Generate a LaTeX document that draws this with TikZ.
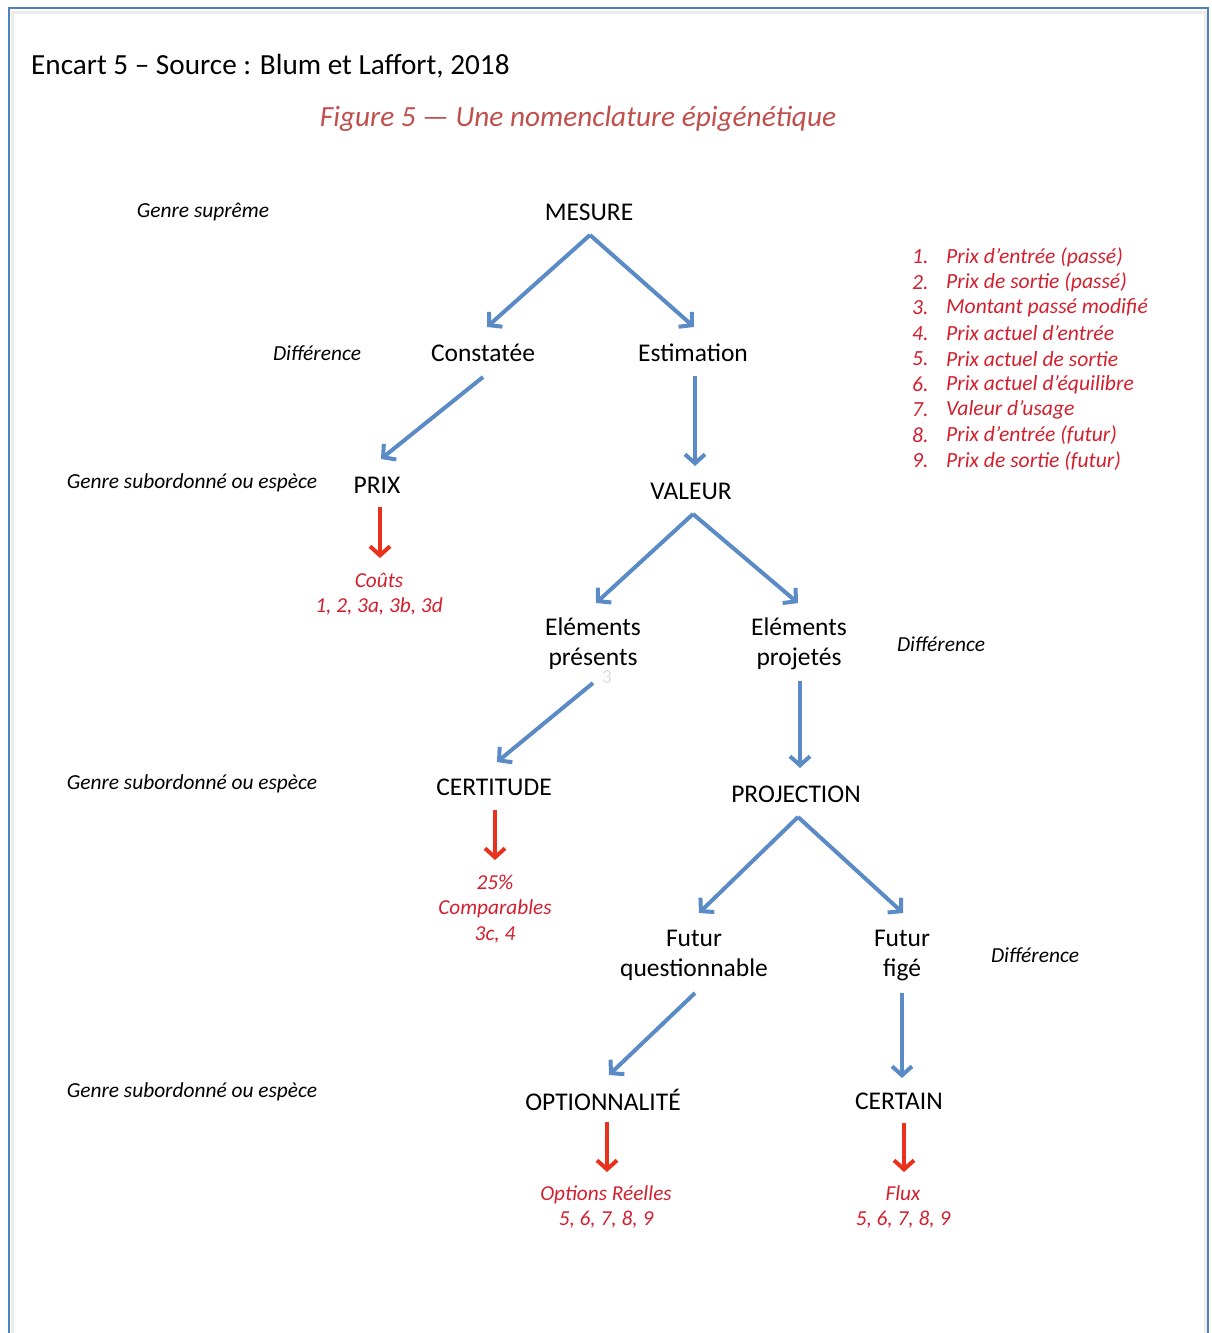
\documentclass[tikz,border=0pt]{standalone}
\usepackage{fontspec}
\setmainfont{Carlito}
\usetikzlibrary{arrows.meta}
\definecolor{arrblue}{HTML}{5B8BC6}
\definecolor{arrred}{HTML}{E8321E}
\definecolor{txtred}{HTML}{D2202F}
\definecolor{figred}{HTML}{C0504D}
\definecolor{framebl}{HTML}{4F81BD}
\begin{document}
\begin{tikzpicture}[x=1pt,y=-1pt,
 lab/.style={font=\fontsize{25.5}{30}\selectfont, align=center, inner sep=0pt},
 side/.style={font=\fontsize{21.4}{24}\selectfont\itshape, inner sep=0pt},
 note/.style={font=\fontsize{21.3}{25.5}\selectfont\itshape, text=txtred, align=center, inner sep=0pt},
 barrow/.style={draw=arrblue, line width=4pt, -{Straight Barb[length=9pt,width=20pt]}},
 rarrow/.style={draw=arrred, line width=4pt, -{Straight Barb[length=9pt,width=20pt]}},
 listitem/.style={font=\fontsize{21.6}{24}\selectfont\itshape, text=txtred, inner sep=0pt, anchor=west},
]
\useasboundingbox (0,0) rectangle (1211,1333);
\fill[white] (0,0) rectangle (1211,1333);
% frame
\draw[gray!15, line width=3pt] (12,1340) -- (12,12) -- (1205,12) -- (1205,1340);
\draw[framebl, line width=2.2pt] (9,1340) -- (9,8) -- (1208,8) -- (1208,1340);

% titles
\node[anchor=west, inner sep=0pt, font=\fontsize{29.2}{34}\selectfont] (encart) at (31,66) {Encart 5 – Source : Blum et Laffort, 2018};
\node[inner sep=0pt, text=figred, font=\fontsize{29.3}{34}\selectfont\itshape] (fig) at (578,119) {Figure 5 — Une nomenclature épigénétique};

% side labels
\node[side] (gs) at (203,212) {Genre suprême};
\node[side] (d1) at (317,353) {Différence};
\node[side] (g1) at (192,483) {Genre subordonné ou espèce};
\node[side] (d2) at (941,644) {Différence};
\node[side] (g2) at (192,784) {Genre subordonné ou espèce};
\node[side] (d3) at (1035,955) {Différence};
\node[side] (g3) at (192,1092) {Genre subordonné ou espèce};

% main nodes
\node[lab] (mesure) at (589,212) {MESURE};
\node[lab] (constatee) at (483,353) {Constatée};
\node[lab] (estimation) at (693,353) {Estimation};
\node[lab] (prix) at (377,485) {PRIX};
\node[lab] (valeur) at (691,491) {VALEUR};
\node[lab] (presents) at (593,644) {Eléments\\présents};
\node[lab] (projetes) at (799,644) {Eléments\\projetés};
\node[lab] (certitude) at (494,787) {CERTITUDE};
\node[lab] (projection) at (796,794) {PROJECTION};
\node[lab] (questionnable) at (694,955) {Futur\\questionnable};
\node[lab] (fige) at (902,955) {Futur\\figé};
\node[lab] (option) at (603,1100) {OPTIONNALITÉ};
\node[lab] (certain) at (899,1101) {CERTAIN};
\node[inner sep=0pt, text=gray!25, font=\fontsize{20}{24}\selectfont] (stray) at (607,677) {3};

% red notes
\node[note] (couts) at (379,594) {Coûts\\1, 2, 3a, 3b, 3d};
\node[note] (comparables) at (495,909) {25\%\\Comparables\\3c, 4};
\node[note] (reelles) at (606,1207) {Options Réelles\\5, 6, 7, 8, 9};
\node[note] (flux) at (903,1207) {Flux\\5, 6, 7, 8, 9};

% numbered list
\foreach \n/\t [count=\i from 0] in {1/Prix d’entrée (passé),2/Prix de sortie (passé),3/Montant passé modifié,4/Prix actuel d’entrée,5/Prix actuel de sortie,6/Prix actuel d’équilibre,7/Valeur d’usage,8/Prix d’entrée (futur),9/Prix de sortie (futur)}{
  \node[listitem] (num\n) at (912,{257+25.5*\i}) {\n.};
  \node[listitem] (item\n) at (946,{257+25.5*\i}) {\t};
}

% anchor coordinates for connectors
\coordinate (mesure-s) at (590,235);
\coordinate (constatee-n) at (487,327);
\coordinate (estimation-n) at (694,327);
\coordinate (constatee-s) at (483,377);
\coordinate (prix-n) at (381,459);
\coordinate (estimation-s) at (695,376);
\coordinate (valeur-n) at (695,466);
\coordinate (valeur-s) at (693,514);
\coordinate (presents-n) at (596,603);
\coordinate (projetes-n) at (798,603);
\coordinate (presents-s) at (593,683);
\coordinate (certitude-n) at (497,762);
\coordinate (projetes-s) at (800,681);
\coordinate (projection-n) at (800,768);
\coordinate (projection-s) at (798,817);
\coordinate (questionnable-n) at (699,913);
\coordinate (fige-n) at (903,913);
\coordinate (questionnable-s) at (695,993);
\coordinate (option-n) at (609,1075);
\coordinate (fige-s) at (902,993);
\coordinate (certain-n) at (902,1078);
\coordinate (prix-s) at (380,507);
\coordinate (couts-n) at (380,558);
\coordinate (certitude-s) at (495,810);
\coordinate (comparables-n) at (495,860);
\coordinate (option-s) at (607,1122);
\coordinate (reelles-n) at (607,1172);
\coordinate (certain-s) at (904,1123);
\coordinate (flux-n) at (904,1172);

% blue connectors
\draw[barrow] (mesure-s) -- (constatee-n);
\draw[barrow] (mesure-s) -- (estimation-n);
\draw[barrow] (constatee-s) -- (prix-n);
\draw[barrow] (estimation-s) -- (valeur-n);
\draw[barrow] (valeur-s) -- (presents-n);
\draw[barrow] (valeur-s) -- (projetes-n);
\draw[barrow] (presents-s) -- (certitude-n);
\draw[barrow] (projetes-s) -- (projection-n);
\draw[barrow] (projection-s) -- (questionnable-n);
\draw[barrow] (projection-s) -- (fige-n);
\draw[barrow] (questionnable-s) -- (option-n);
\draw[barrow] (fige-s) -- (certain-n);

% red connectors
\draw[rarrow] (prix-s) -- (couts-n);
\draw[rarrow] (certitude-s) -- (comparables-n);
\draw[rarrow] (option-s) -- (reelles-n);
\draw[rarrow] (certain-s) -- (flux-n);
\end{tikzpicture}
\end{document}
